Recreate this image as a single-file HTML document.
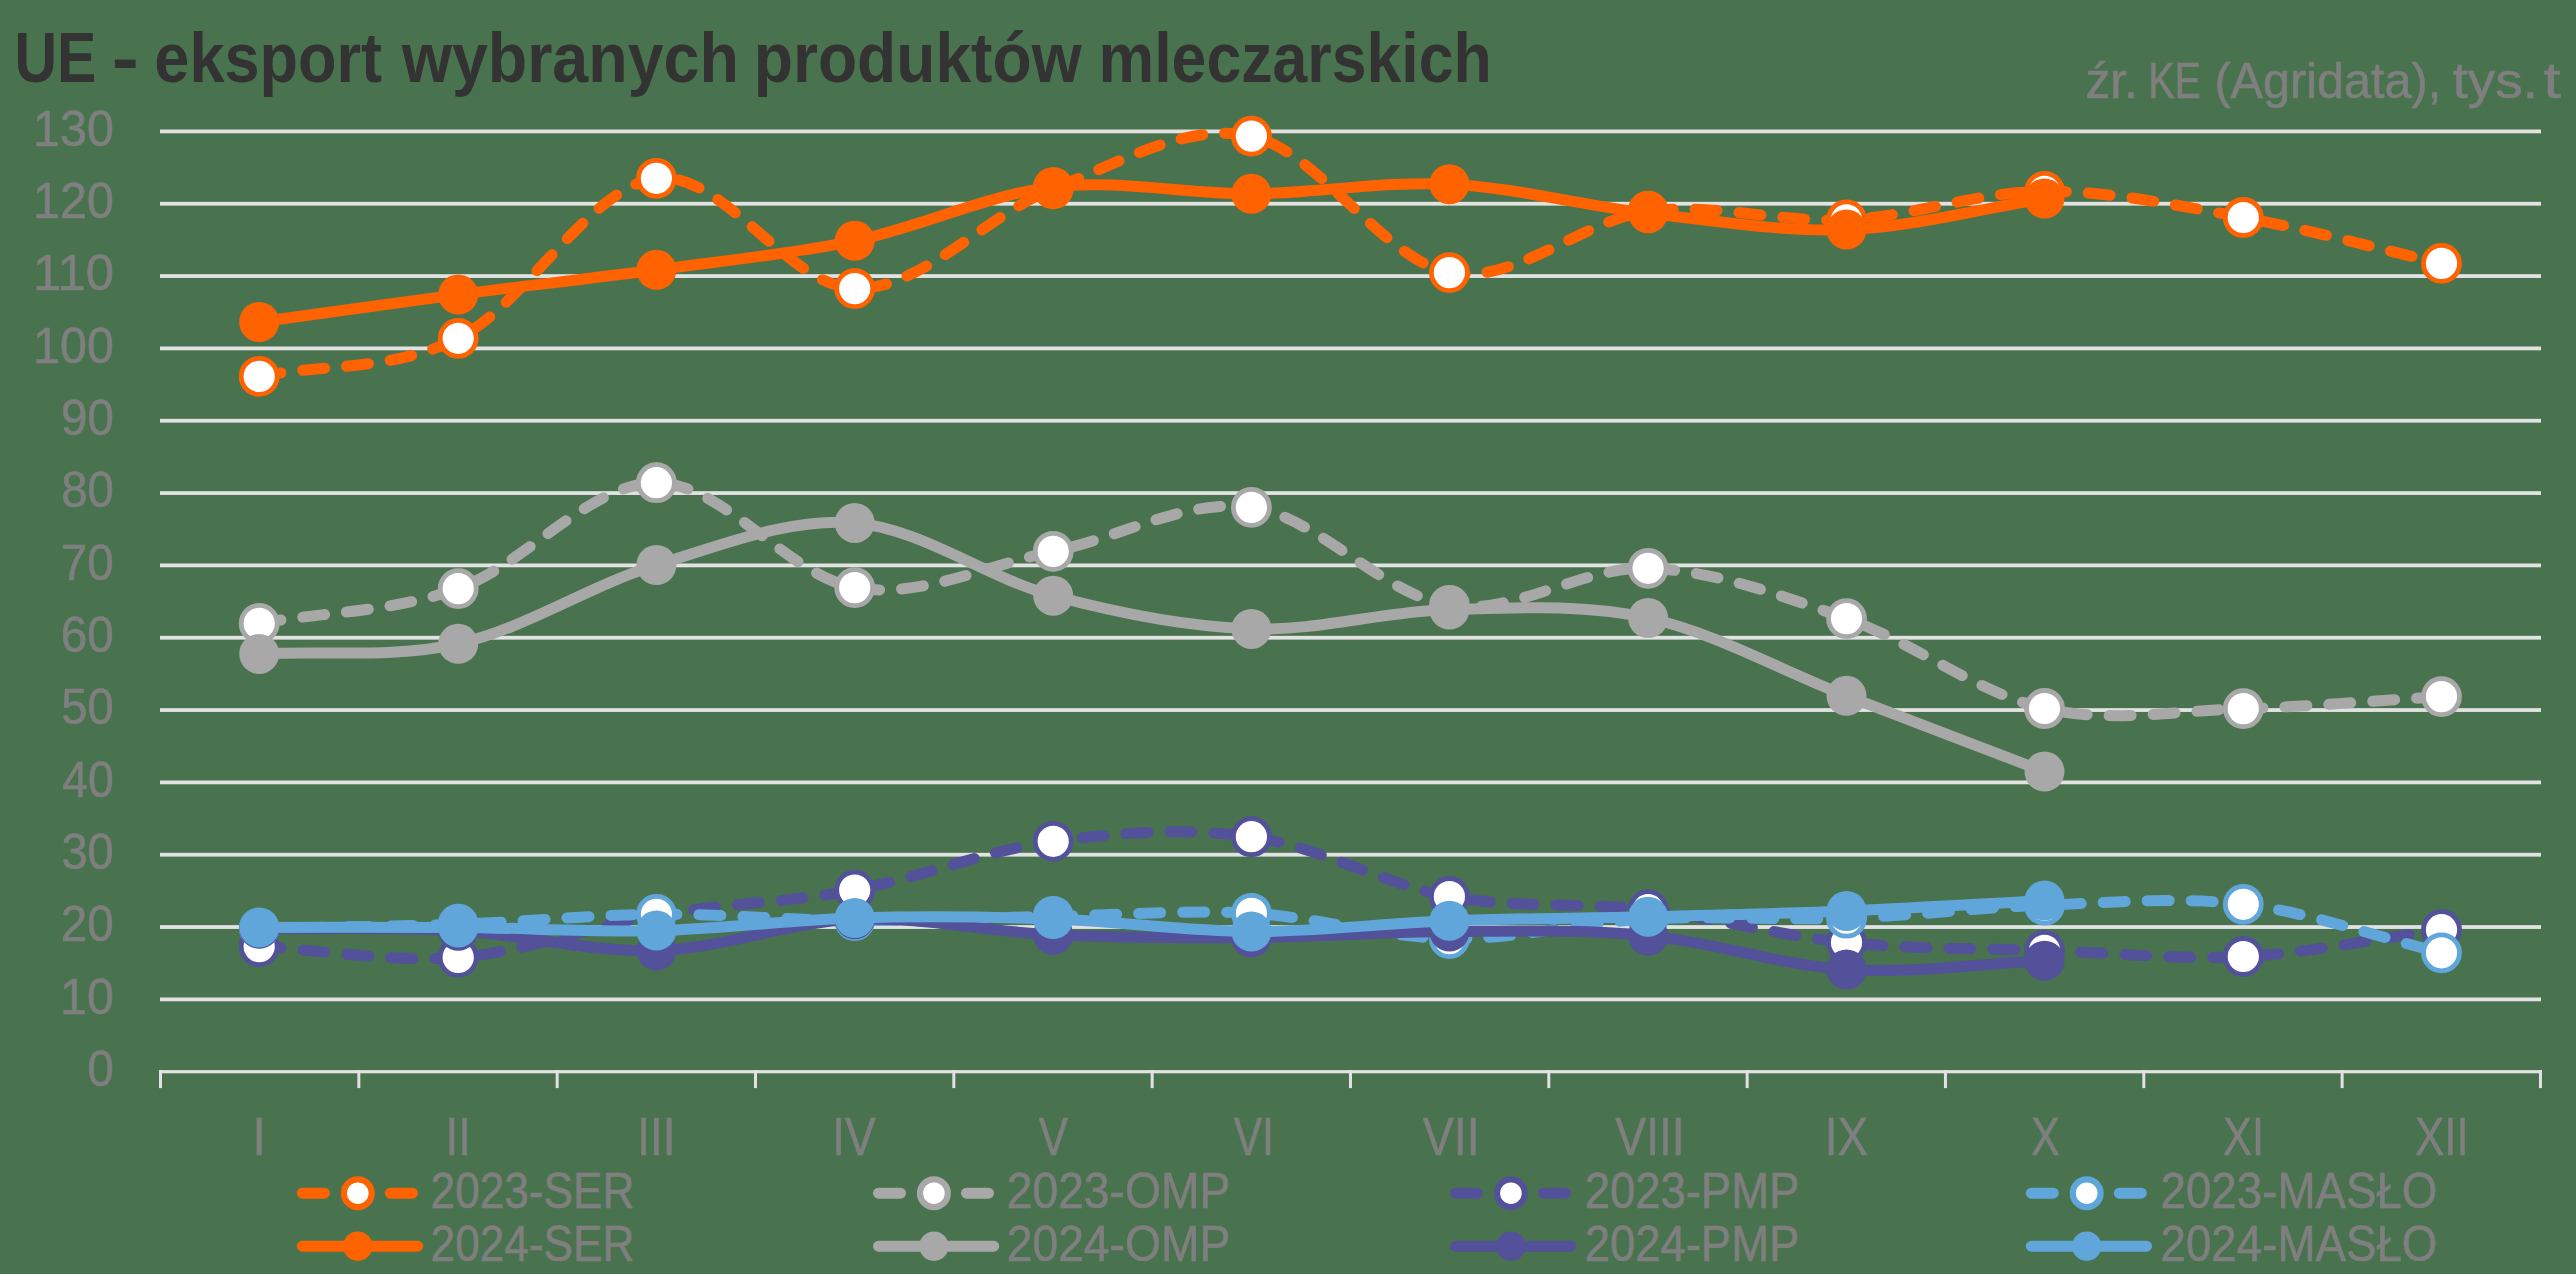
<!DOCTYPE html>
<html lang="pl"><head><meta charset="utf-8"><title>UE - eksport wybranych produktów mleczarskich</title>
<style>html,body{margin:0;padding:0;background:#49734e;}body{width:2576px;height:1274px;overflow:hidden;font-family:"Liberation Sans",sans-serif;}svg{display:block;}</style>
</head><body>
<svg width="2576" height="1274" viewBox="0 0 2576 1274" font-family="Liberation Sans, sans-serif">
<rect width="2576" height="1274" fill="#49734e"/>
<rect x="160" y="997.47" width="2381" height="3.8" fill="#e2e2e2"/>
<rect x="160" y="925.14" width="2381" height="3.8" fill="#e2e2e2"/>
<rect x="160" y="852.81" width="2381" height="3.8" fill="#e2e2e2"/>
<rect x="160" y="780.48" width="2381" height="3.8" fill="#e2e2e2"/>
<rect x="160" y="708.15" width="2381" height="3.8" fill="#e2e2e2"/>
<rect x="160" y="635.82" width="2381" height="3.8" fill="#e2e2e2"/>
<rect x="160" y="563.49" width="2381" height="3.8" fill="#e2e2e2"/>
<rect x="160" y="491.16" width="2381" height="3.8" fill="#e2e2e2"/>
<rect x="160" y="418.83" width="2381" height="3.8" fill="#e2e2e2"/>
<rect x="160" y="346.50" width="2381" height="3.8" fill="#e2e2e2"/>
<rect x="160" y="274.17" width="2381" height="3.8" fill="#e2e2e2"/>
<rect x="160" y="201.84" width="2381" height="3.8" fill="#e2e2e2"/>
<rect x="160" y="129.51" width="2381" height="3.8" fill="#e2e2e2"/>
<rect x="159" y="1070.10" width="2383" height="3.2" fill="#e2e2e2"/>
<rect x="159.00" y="1070.10" width="3" height="18" fill="#e2e2e2"/>
<rect x="357.33" y="1070.10" width="3" height="18" fill="#e2e2e2"/>
<rect x="555.66" y="1070.10" width="3" height="18" fill="#e2e2e2"/>
<rect x="753.99" y="1070.10" width="3" height="18" fill="#e2e2e2"/>
<rect x="952.32" y="1070.10" width="3" height="18" fill="#e2e2e2"/>
<rect x="1150.65" y="1070.10" width="3" height="18" fill="#e2e2e2"/>
<rect x="1348.98" y="1070.10" width="3" height="18" fill="#e2e2e2"/>
<rect x="1547.31" y="1070.10" width="3" height="18" fill="#e2e2e2"/>
<rect x="1745.64" y="1070.10" width="3" height="18" fill="#e2e2e2"/>
<rect x="1943.97" y="1070.10" width="3" height="18" fill="#e2e2e2"/>
<rect x="2142.30" y="1070.10" width="3" height="18" fill="#e2e2e2"/>
<rect x="2340.63" y="1070.10" width="3" height="18" fill="#e2e2e2"/>
<rect x="2538.96" y="1070.10" width="3" height="18" fill="#e2e2e2"/>
<text transform="translate(87.45,1086.10) scale(0.9344,1.0000)" font-size="50.72" fill="#7f7f7f" stroke="#7f7f7f" stroke-width="0.6">0</text>
<text transform="translate(59.91,1013.77) scale(0.9562,1.0000)" font-size="50.72" fill="#7f7f7f" stroke="#7f7f7f" stroke-width="0.6">10</text>
<text transform="translate(60.82,941.44) scale(0.9396,1.0000)" font-size="50.72" fill="#7f7f7f" stroke="#7f7f7f" stroke-width="0.6">20</text>
<text transform="translate(61.41,869.11) scale(0.9287,1.0000)" font-size="50.72" fill="#7f7f7f" stroke="#7f7f7f" stroke-width="0.6">30</text>
<text transform="translate(62.18,796.78) scale(0.9146,1.0000)" font-size="50.72" fill="#7f7f7f" stroke="#7f7f7f" stroke-width="0.6">40</text>
<text transform="translate(61.31,724.45) scale(0.9305,1.0000)" font-size="50.72" fill="#7f7f7f" stroke="#7f7f7f" stroke-width="0.6">50</text>
<text transform="translate(60.82,652.12) scale(0.9396,1.0000)" font-size="50.72" fill="#7f7f7f" stroke="#7f7f7f" stroke-width="0.6">60</text>
<text transform="translate(60.77,579.79) scale(0.9405,1.0000)" font-size="50.72" fill="#7f7f7f" stroke="#7f7f7f" stroke-width="0.6">70</text>
<text transform="translate(61.16,507.46) scale(0.9332,1.0000)" font-size="50.72" fill="#7f7f7f" stroke="#7f7f7f" stroke-width="0.6">80</text>
<text transform="translate(61.02,435.13) scale(0.9359,1.0000)" font-size="50.72" fill="#7f7f7f" stroke="#7f7f7f" stroke-width="0.6">90</text>
<text transform="translate(33.12,362.80) scale(0.9541,1.0000)" font-size="50.72" fill="#7f7f7f" stroke="#7f7f7f" stroke-width="0.6">100</text>
<text transform="translate(32.94,290.47) scale(1.0018,1.0000)" font-size="50.72" fill="#7f7f7f" stroke="#7f7f7f" stroke-width="0.6">110</text>
<text transform="translate(33.12,218.14) scale(0.9541,1.0000)" font-size="50.72" fill="#7f7f7f" stroke="#7f7f7f" stroke-width="0.6">120</text>
<text transform="translate(33.12,145.81) scale(0.9541,1.0000)" font-size="50.72" fill="#7f7f7f" stroke="#7f7f7f" stroke-width="0.6">130</text>
<path d="M259.2,376.4 C325.5,363.7 392.0,371.3 458.2,338.3 C524.4,305.3 590.3,186.6 656.4,178.3 C722.5,170.0 788.6,286.9 854.7,288.6 C920.8,290.4 987.1,214.2 1053.2,188.8 C1119.3,163.4 1185.4,122.1 1251.4,136.1 C1317.4,150.1 1383.3,260.1 1449.4,272.6 C1515.5,285.1 1581.9,220.0 1648.1,211.2 C1714.3,202.4 1780.4,223.1 1846.5,219.8 C1912.6,216.5 1978.4,191.7 2044.5,191.3 C2110.6,190.9 2177.1,205.5 2243.3,217.5 C2309.5,229.5 2375.4,248.1 2441.5,263.4" fill="none" stroke="#ff6200" stroke-width="11" stroke-linecap="round" stroke-linejoin="round" stroke-dasharray="22 22"/>
<circle cx="259.2" cy="376.4" r="18" fill="#fff" stroke="#ff6200" stroke-width="4.8"/>
<circle cx="458.2" cy="338.3" r="18" fill="#fff" stroke="#ff6200" stroke-width="4.8"/>
<circle cx="656.4" cy="178.3" r="18" fill="#fff" stroke="#ff6200" stroke-width="4.8"/>
<circle cx="854.7" cy="288.6" r="18" fill="#fff" stroke="#ff6200" stroke-width="4.8"/>
<circle cx="1053.2" cy="188.8" r="18" fill="#fff" stroke="#ff6200" stroke-width="4.8"/>
<circle cx="1251.4" cy="136.1" r="18" fill="#fff" stroke="#ff6200" stroke-width="4.8"/>
<circle cx="1449.4" cy="272.6" r="18" fill="#fff" stroke="#ff6200" stroke-width="4.8"/>
<circle cx="1648.1" cy="211.2" r="18" fill="#fff" stroke="#ff6200" stroke-width="4.8"/>
<circle cx="1846.5" cy="219.8" r="18" fill="#fff" stroke="#ff6200" stroke-width="4.8"/>
<circle cx="2044.5" cy="191.3" r="18" fill="#fff" stroke="#ff6200" stroke-width="4.8"/>
<circle cx="2243.3" cy="217.5" r="18" fill="#fff" stroke="#ff6200" stroke-width="4.8"/>
<circle cx="2441.5" cy="263.4" r="18" fill="#fff" stroke="#ff6200" stroke-width="4.8"/>
<path d="M259.2,623.4 C325.5,611.8 392.0,612.1 458.2,588.6 C524.4,565.1 590.3,482.9 656.4,482.7 C722.5,482.5 788.6,576.1 854.7,587.6 C920.8,599.1 987.1,564.8 1053.2,551.4 C1119.3,538.0 1185.4,498.4 1251.4,507.4 C1317.4,516.4 1383.3,595.4 1449.4,605.5 C1515.5,615.6 1581.9,566.1 1648.1,568.3 C1714.3,570.5 1780.4,595.2 1846.5,618.6 C1912.6,642.0 1978.4,693.5 2044.5,708.5 C2110.6,723.5 2177.1,710.6 2243.3,708.6 C2309.5,706.6 2375.4,700.6 2441.5,696.6" fill="none" stroke="#a8a8a8" stroke-width="11" stroke-linecap="round" stroke-linejoin="round" stroke-dasharray="22 22"/>
<circle cx="259.2" cy="623.4" r="18" fill="#fff" stroke="#a8a8a8" stroke-width="4.8"/>
<circle cx="458.2" cy="588.6" r="18" fill="#fff" stroke="#a8a8a8" stroke-width="4.8"/>
<circle cx="656.4" cy="482.7" r="18" fill="#fff" stroke="#a8a8a8" stroke-width="4.8"/>
<circle cx="854.7" cy="587.6" r="18" fill="#fff" stroke="#a8a8a8" stroke-width="4.8"/>
<circle cx="1053.2" cy="551.4" r="18" fill="#fff" stroke="#a8a8a8" stroke-width="4.8"/>
<circle cx="1251.4" cy="507.4" r="18" fill="#fff" stroke="#a8a8a8" stroke-width="4.8"/>
<circle cx="1449.4" cy="605.5" r="18" fill="#fff" stroke="#a8a8a8" stroke-width="4.8"/>
<circle cx="1648.1" cy="568.3" r="18" fill="#fff" stroke="#a8a8a8" stroke-width="4.8"/>
<circle cx="1846.5" cy="618.6" r="18" fill="#fff" stroke="#a8a8a8" stroke-width="4.8"/>
<circle cx="2044.5" cy="708.5" r="18" fill="#fff" stroke="#a8a8a8" stroke-width="4.8"/>
<circle cx="2243.3" cy="708.6" r="18" fill="#fff" stroke="#a8a8a8" stroke-width="4.8"/>
<circle cx="2441.5" cy="696.6" r="18" fill="#fff" stroke="#a8a8a8" stroke-width="4.8"/>
<path d="M259.2,946.6 C325.5,950.2 392.0,962.7 458.2,957.4 C524.4,952.1 590.3,926.2 656.4,915.0 C722.5,903.8 788.6,902.4 854.7,890.1 C920.8,877.8 987.1,850.2 1053.2,841.3 C1119.3,832.4 1185.4,827.5 1251.4,836.7 C1317.4,845.9 1383.3,884.3 1449.4,896.5 C1515.5,908.7 1581.9,902.0 1648.1,909.7 C1714.3,917.4 1780.4,935.8 1846.5,942.6 C1912.6,949.4 1978.4,948.1 2044.5,950.4 C2110.6,952.7 2177.1,960.0 2243.3,956.5 C2309.5,953.0 2375.4,938.6 2441.5,929.7" fill="none" stroke="#525199" stroke-width="11" stroke-linecap="round" stroke-linejoin="round" stroke-dasharray="22 22"/>
<circle cx="259.2" cy="946.6" r="18" fill="#fff" stroke="#525199" stroke-width="4.8"/>
<circle cx="458.2" cy="957.4" r="18" fill="#fff" stroke="#525199" stroke-width="4.8"/>
<circle cx="656.4" cy="915.0" r="18" fill="#fff" stroke="#525199" stroke-width="4.8"/>
<circle cx="854.7" cy="890.1" r="18" fill="#fff" stroke="#525199" stroke-width="4.8"/>
<circle cx="1053.2" cy="841.3" r="18" fill="#fff" stroke="#525199" stroke-width="4.8"/>
<circle cx="1251.4" cy="836.7" r="18" fill="#fff" stroke="#525199" stroke-width="4.8"/>
<circle cx="1449.4" cy="896.5" r="18" fill="#fff" stroke="#525199" stroke-width="4.8"/>
<circle cx="1648.1" cy="909.7" r="18" fill="#fff" stroke="#525199" stroke-width="4.8"/>
<circle cx="1846.5" cy="942.6" r="18" fill="#fff" stroke="#525199" stroke-width="4.8"/>
<circle cx="2044.5" cy="950.4" r="18" fill="#fff" stroke="#525199" stroke-width="4.8"/>
<circle cx="2243.3" cy="956.5" r="18" fill="#fff" stroke="#525199" stroke-width="4.8"/>
<circle cx="2441.5" cy="929.7" r="18" fill="#fff" stroke="#525199" stroke-width="4.8"/>
<path d="M259.2,928.3 C325.5,926.9 392.0,926.5 458.2,924.2 C524.4,921.9 590.3,914.9 656.4,914.3 C722.5,913.7 788.6,920.3 854.7,920.6 C920.8,920.9 987.1,917.5 1053.2,916.3 C1119.3,915.1 1185.4,909.6 1251.4,913.3 C1317.4,917.0 1383.3,937.6 1449.4,938.6 C1515.5,939.6 1581.9,922.4 1648.1,919.0 C1714.3,915.6 1780.4,920.5 1846.5,918.2 C1912.6,915.9 1978.4,907.5 2044.5,905.2 C2110.6,902.9 2177.1,896.4 2243.3,904.3 C2309.5,912.2 2375.4,936.6 2441.5,952.8" fill="none" stroke="#60a6da" stroke-width="11" stroke-linecap="round" stroke-linejoin="round" stroke-dasharray="22 22"/>
<circle cx="259.2" cy="928.3" r="18" fill="#fff" stroke="#60a6da" stroke-width="4.8"/>
<circle cx="458.2" cy="924.2" r="18" fill="#fff" stroke="#60a6da" stroke-width="4.8"/>
<circle cx="656.4" cy="914.3" r="18" fill="#fff" stroke="#60a6da" stroke-width="4.8"/>
<circle cx="854.7" cy="920.6" r="18" fill="#fff" stroke="#60a6da" stroke-width="4.8"/>
<circle cx="1053.2" cy="916.3" r="18" fill="#fff" stroke="#60a6da" stroke-width="4.8"/>
<circle cx="1251.4" cy="913.3" r="18" fill="#fff" stroke="#60a6da" stroke-width="4.8"/>
<circle cx="1449.4" cy="938.6" r="18" fill="#fff" stroke="#60a6da" stroke-width="4.8"/>
<circle cx="1648.1" cy="919.0" r="18" fill="#fff" stroke="#60a6da" stroke-width="4.8"/>
<circle cx="1846.5" cy="918.2" r="18" fill="#fff" stroke="#60a6da" stroke-width="4.8"/>
<circle cx="2044.5" cy="905.2" r="18" fill="#fff" stroke="#60a6da" stroke-width="4.8"/>
<circle cx="2243.3" cy="904.3" r="18" fill="#fff" stroke="#60a6da" stroke-width="4.8"/>
<circle cx="2441.5" cy="952.8" r="18" fill="#fff" stroke="#60a6da" stroke-width="4.8"/>
<path d="M259.2,322.0 C325.5,312.9 392.0,303.3 458.2,294.6 C524.4,285.9 590.3,278.8 656.4,269.8 C722.5,260.8 788.6,254.6 854.7,240.8 C920.8,227.0 987.1,194.8 1053.2,187.0 C1119.3,179.2 1185.4,194.3 1251.4,193.8 C1317.4,193.3 1383.3,181.0 1449.4,184.2 C1515.5,187.4 1581.9,205.6 1648.1,213.2 C1714.3,220.8 1780.4,232.0 1846.5,229.6 C1912.6,227.2 1978.5,208.9 2044.5,198.6" fill="none" stroke="#ff6200" stroke-width="11" stroke-linecap="round" stroke-linejoin="round"/>
<circle cx="259.2" cy="322.0" r="20" fill="#ff6200"/>
<circle cx="458.2" cy="294.6" r="20" fill="#ff6200"/>
<circle cx="656.4" cy="269.8" r="20" fill="#ff6200"/>
<circle cx="854.7" cy="240.8" r="20" fill="#ff6200"/>
<circle cx="1053.2" cy="187.0" r="20" fill="#ff6200"/>
<circle cx="1251.4" cy="193.8" r="20" fill="#ff6200"/>
<circle cx="1449.4" cy="184.2" r="20" fill="#ff6200"/>
<circle cx="1648.1" cy="213.2" r="20" fill="#ff6200"/>
<circle cx="1846.5" cy="229.6" r="20" fill="#ff6200"/>
<circle cx="2044.5" cy="198.6" r="20" fill="#ff6200"/>
<path d="M259.2,653.9 C325.5,650.5 392.0,658.6 458.2,643.8 C524.4,629.0 590.3,585.1 656.4,565.0 C722.5,544.9 788.6,517.8 854.7,522.9 C920.8,528.0 987.1,578.0 1053.2,595.7 C1119.3,613.4 1185.4,626.6 1251.4,628.9 C1317.4,631.2 1383.3,611.4 1449.4,609.6 C1515.5,607.8 1581.9,603.6 1648.1,618.0 C1714.3,632.4 1780.4,670.2 1846.5,695.8 C1912.6,721.4 1978.5,746.3 2044.5,771.6" fill="none" stroke="#a8a8a8" stroke-width="11" stroke-linecap="round" stroke-linejoin="round"/>
<circle cx="259.2" cy="653.9" r="20" fill="#a8a8a8"/>
<circle cx="458.2" cy="643.8" r="20" fill="#a8a8a8"/>
<circle cx="656.4" cy="565.0" r="20" fill="#a8a8a8"/>
<circle cx="854.7" cy="522.9" r="20" fill="#a8a8a8"/>
<circle cx="1053.2" cy="595.7" r="20" fill="#a8a8a8"/>
<circle cx="1251.4" cy="628.9" r="20" fill="#a8a8a8"/>
<circle cx="1449.4" cy="609.6" r="20" fill="#a8a8a8"/>
<circle cx="1648.1" cy="618.0" r="20" fill="#a8a8a8"/>
<circle cx="1846.5" cy="695.8" r="20" fill="#a8a8a8"/>
<circle cx="2044.5" cy="771.6" r="20" fill="#a8a8a8"/>
<path d="M259.2,928.5 C325.5,929.3 392.0,927.1 458.2,930.8 C524.4,934.5 590.3,952.5 656.4,950.6 C722.5,948.7 788.6,921.9 854.7,919.3 C920.8,916.7 987.1,931.8 1053.2,934.8 C1119.3,937.8 1185.4,938.1 1251.4,937.6 C1317.4,937.1 1383.3,931.8 1449.4,931.5 C1515.5,931.2 1581.9,929.2 1648.1,935.6 C1714.3,942.0 1780.4,965.4 1846.5,969.6 C1912.6,973.8 1978.5,963.7 2044.5,960.7" fill="none" stroke="#525199" stroke-width="11" stroke-linecap="round" stroke-linejoin="round"/>
<circle cx="259.2" cy="928.5" r="20" fill="#525199"/>
<circle cx="458.2" cy="930.8" r="20" fill="#525199"/>
<circle cx="656.4" cy="950.6" r="20" fill="#525199"/>
<circle cx="854.7" cy="919.3" r="20" fill="#525199"/>
<circle cx="1053.2" cy="934.8" r="20" fill="#525199"/>
<circle cx="1251.4" cy="937.6" r="20" fill="#525199"/>
<circle cx="1449.4" cy="931.5" r="20" fill="#525199"/>
<circle cx="1648.1" cy="935.6" r="20" fill="#525199"/>
<circle cx="1846.5" cy="969.6" r="20" fill="#525199"/>
<circle cx="2044.5" cy="960.7" r="20" fill="#525199"/>
<path d="M259.2,927.4 C325.5,927.4 392.0,926.9 458.2,927.4 C524.4,927.9 590.3,932.2 656.4,930.6 C722.5,929.0 788.6,919.9 854.7,918.0 C920.8,916.1 987.1,916.7 1053.2,919.0 C1119.3,921.3 1185.4,931.3 1251.4,931.6 C1317.4,931.9 1383.3,923.3 1449.4,920.8 C1515.5,918.3 1581.9,918.4 1648.1,916.8 C1714.3,915.2 1780.4,913.7 1846.5,911.0 C1912.6,908.3 1978.5,904.1 2044.5,900.6" fill="none" stroke="#60a6da" stroke-width="11" stroke-linecap="round" stroke-linejoin="round"/>
<circle cx="259.2" cy="927.4" r="20" fill="#60a6da"/>
<circle cx="458.2" cy="927.4" r="20" fill="#60a6da"/>
<circle cx="656.4" cy="930.6" r="20" fill="#60a6da"/>
<circle cx="854.7" cy="918.0" r="20" fill="#60a6da"/>
<circle cx="1053.2" cy="919.0" r="20" fill="#60a6da"/>
<circle cx="1251.4" cy="931.6" r="20" fill="#60a6da"/>
<circle cx="1449.4" cy="920.8" r="20" fill="#60a6da"/>
<circle cx="1648.1" cy="916.8" r="20" fill="#60a6da"/>
<circle cx="1846.5" cy="911.0" r="20" fill="#60a6da"/>
<circle cx="2044.5" cy="900.6" r="20" fill="#60a6da"/>
<text transform="translate(252.60,1154.70) scale(0.8975,1.0000)" font-size="53.34" fill="#7f7f7f" stroke="#7f7f7f" stroke-width="0.6">I</text>
<text transform="translate(445.47,1154.70) scale(0.8618,1.0000)" font-size="53.34" fill="#7f7f7f" stroke="#7f7f7f" stroke-width="0.6">II</text>
<text transform="translate(637.28,1154.70) scale(0.8595,1.0000)" font-size="53.34" fill="#7f7f7f" stroke="#7f7f7f" stroke-width="0.6">III</text>
<text transform="translate(832.27,1154.70) scale(0.8612,1.0000)" font-size="53.34" fill="#7f7f7f" stroke="#7f7f7f" stroke-width="0.6">IV</text>
<text transform="translate(1038.82,1154.70) scale(0.8250,1.0000)" font-size="53.34" fill="#7f7f7f" stroke="#7f7f7f" stroke-width="0.6">V</text>
<text transform="translate(1233.83,1154.70) scale(0.7950,1.0000)" font-size="53.34" fill="#7f7f7f" stroke="#7f7f7f" stroke-width="0.6">VI</text>
<text transform="translate(1422.81,1154.70) scale(0.8733,1.0000)" font-size="53.34" fill="#7f7f7f" stroke="#7f7f7f" stroke-width="0.6">VII</text>
<text transform="translate(1615.31,1154.70) scale(0.8673,1.0000)" font-size="53.34" fill="#7f7f7f" stroke="#7f7f7f" stroke-width="0.6">VIII</text>
<text transform="translate(1824.80,1154.70) scale(0.8563,1.0000)" font-size="53.34" fill="#7f7f7f" stroke="#7f7f7f" stroke-width="0.6">IX</text>
<text transform="translate(2031.06,1154.70) scale(0.8022,1.0000)" font-size="53.34" fill="#7f7f7f" stroke="#7f7f7f" stroke-width="0.6">X</text>
<text transform="translate(2223.05,1154.70) scale(0.8122,1.0000)" font-size="53.34" fill="#7f7f7f" stroke="#7f7f7f" stroke-width="0.6">XI</text>
<text transform="translate(2415.03,1154.70) scale(0.8233,1.0000)" font-size="53.34" fill="#7f7f7f" stroke="#7f7f7f" stroke-width="0.6">XII</text>
<path d="M302.4,1193.2 H417.6" stroke="#ff6200" stroke-width="11" stroke-linecap="round" stroke-dasharray="22 22" fill="none"/>
<circle cx="357.8" cy="1193.2" r="13.9" fill="#fff" stroke="#ff6200" stroke-width="6.2"/>
<text transform="translate(430.59,1207.50) scale(0.8706,1.0000)" font-size="50.72" fill="#7f7f7f" stroke="#7f7f7f" stroke-width="0.6">2023-SER</text>
<path d="M302.4,1246.2 H417.6" stroke="#ff6200" stroke-width="11" stroke-linecap="round" fill="none"/>
<circle cx="357.8" cy="1246.2" r="14.7" fill="#ff6200"/>
<text transform="translate(430.59,1260.90) scale(0.8706,1.0000)" font-size="50.72" fill="#7f7f7f" stroke="#7f7f7f" stroke-width="0.6">2024-SER</text>
<path d="M878.5,1193.2 H993.7" stroke="#a8a8a8" stroke-width="11" stroke-linecap="round" stroke-dasharray="22 22" fill="none"/>
<circle cx="933.9" cy="1193.2" r="13.9" fill="#fff" stroke="#a8a8a8" stroke-width="6.2"/>
<text transform="translate(1006.69,1207.50) scale(0.9123,1.0000)" font-size="50.72" fill="#7f7f7f" stroke="#7f7f7f" stroke-width="0.6">2023-OMP</text>
<path d="M878.5,1246.2 H993.7" stroke="#a8a8a8" stroke-width="11" stroke-linecap="round" fill="none"/>
<circle cx="933.9" cy="1246.2" r="14.7" fill="#a8a8a8"/>
<text transform="translate(1006.69,1260.90) scale(0.9123,1.0000)" font-size="50.72" fill="#7f7f7f" stroke="#7f7f7f" stroke-width="0.6">2024-OMP</text>
<path d="M1455.5,1193.2 H1570.7" stroke="#525199" stroke-width="11" stroke-linecap="round" stroke-dasharray="22 22" fill="none"/>
<circle cx="1510.9" cy="1193.2" r="13.9" fill="#fff" stroke="#525199" stroke-width="6.2"/>
<text transform="translate(1584.73,1207.50) scale(0.8956,1.0000)" font-size="50.72" fill="#7f7f7f" stroke="#7f7f7f" stroke-width="0.6">2023-PMP</text>
<path d="M1455.5,1246.2 H1570.7" stroke="#525199" stroke-width="11" stroke-linecap="round" fill="none"/>
<circle cx="1510.9" cy="1246.2" r="14.7" fill="#525199"/>
<text transform="translate(1584.73,1260.90) scale(0.8956,1.0000)" font-size="50.72" fill="#7f7f7f" stroke="#7f7f7f" stroke-width="0.6">2024-PMP</text>
<path d="M2031.3,1193.2 H2146.5" stroke="#60a6da" stroke-width="11" stroke-linecap="round" stroke-dasharray="22 22" fill="none"/>
<circle cx="2086.7" cy="1193.2" r="13.9" fill="#fff" stroke="#60a6da" stroke-width="6.2"/>
<text transform="translate(2160.51,1207.50) scale(0.9013,1.0000)" font-size="50.72" fill="#7f7f7f" stroke="#7f7f7f" stroke-width="0.6">2023-MASŁO</text>
<path d="M2031.3,1246.2 H2146.5" stroke="#60a6da" stroke-width="11" stroke-linecap="round" fill="none"/>
<circle cx="2086.7" cy="1246.2" r="14.7" fill="#60a6da"/>
<text transform="translate(2160.51,1260.90) scale(0.9013,1.0000)" font-size="50.72" fill="#7f7f7f" stroke="#7f7f7f" stroke-width="0.6">2024-MASŁO</text>
<text transform="translate(14.47,82.30) scale(0.8462,1.0000)" font-size="69.62" font-weight="bold" fill="#333333">UE</text>
<text transform="translate(111.82,82.30) scale(1.1706,1.0000)" font-size="69.62" font-weight="bold" fill="#333333">-</text>
<text transform="translate(154.34,82.30) scale(0.9059,1.0000)" font-size="69.62" font-weight="bold" fill="#333333">eksport</text>
<text transform="translate(401.69,82.30) scale(0.9275,1.0000)" font-size="69.62" font-weight="bold" fill="#333333">wybranych</text>
<text transform="translate(753.73,82.30) scale(0.9216,1.0000)" font-size="69.62" font-weight="bold" fill="#333333">produktów</text>
<text transform="translate(1098.53,82.30) scale(0.8994,1.0000)" font-size="69.62" font-weight="bold" fill="#333333">mleczarskich</text>
<text transform="translate(2085.42,97.60) scale(0.9838,1.0000)" font-size="50.44" fill="#7f7f7f" stroke="#7f7f7f" stroke-width="0.6">źr.</text>
<text transform="translate(2148.27,97.60) scale(0.7799,1.0000)" font-size="50.44" fill="#7f7f7f" stroke="#7f7f7f" stroke-width="0.6">KE</text>
<text transform="translate(2214.39,97.60) scale(0.9638,1.0000)" font-size="50.44" fill="#7f7f7f" stroke="#7f7f7f" stroke-width="0.6">(Agridata),</text>
<text transform="translate(2452.48,97.60) scale(1.0897,1.0000)" font-size="50.44" fill="#7f7f7f" stroke="#7f7f7f" stroke-width="0.6">tys.</text>
<text transform="translate(2543.25,97.60) scale(1.2500,1.0000)" font-size="50.44" fill="#7f7f7f" stroke="#7f7f7f" stroke-width="0.6">t</text>
</svg>
</body></html>
